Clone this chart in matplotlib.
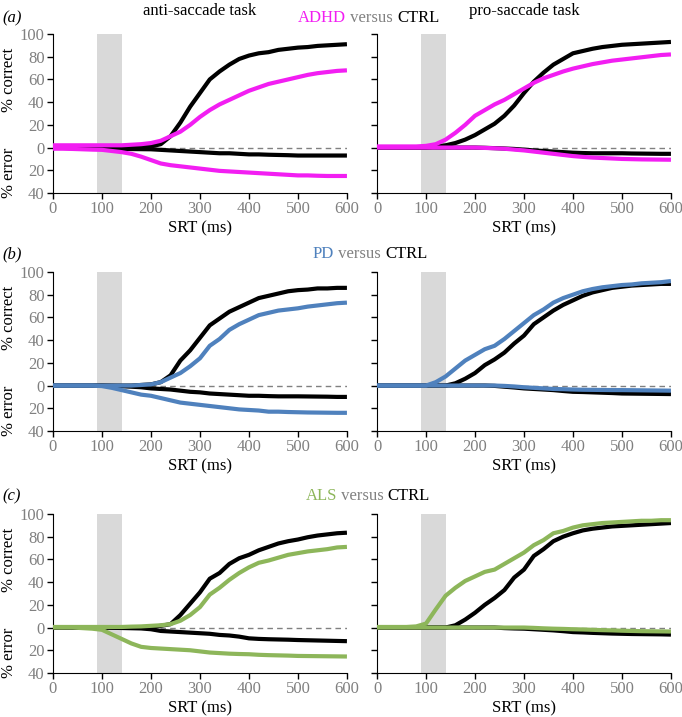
import matplotlib.pyplot as plt

plt.rcParams['font.family'] = 'serif'
plt.rcParams['font.serif'] = ['Liberation Serif', 'DejaVu Serif']

srt = list(range(0, 601, 20))

# (a) ADHD vs CTRL
a_anti_ctrl_c = [0, 0, 0, 0, 0, 0, 0, 0, 0, 0.5, 1, 3, 10, 22, 36, 48, 60, 67, 73, 78, 81, 83, 84, 86, 87, 88, 88.5, 89.5, 90, 90.5, 91]
a_anti_pat_c = [2, 2, 2, 2, 2, 2, 2, 2, 2.5, 3, 4, 6, 10, 14, 20, 27, 33, 38, 42, 46, 50, 53, 56, 58, 60, 62, 64, 65.5, 66.5, 67.5, 68]
a_anti_ctrl_e = [0, -0.3, -0.5, -0.7, -0.9, -1, -1.1, -1.2, -1.3, -1.4, -1.5, -2, -2.5, -3, -3.5, -4, -4.5, -5, -5, -5.5, -6, -6, -6.3, -6.5, -6.7, -7, -7, -7, -7, -7, -7]
a_anti_pat_e = [-1, -1, -1.2, -1.5, -1.8, -2, -3, -4, -5.5, -8, -11, -14, -15.5, -16.5, -17.5, -18.5, -19.5, -20.5, -21, -21.5, -22, -22.5, -23, -23.5, -24, -24.5, -24.5, -24.8, -25, -25, -25]
a_pro_ctrl_c = [0, 0, 0, 0, 0, 0, 1, 2, 4, 7, 11, 16, 21, 28, 37, 48, 58, 66, 73, 78, 83, 85, 87, 88.5, 89.5, 90.5, 91, 91.5, 92, 92.5, 93]
a_pro_pat_c = [1, 1, 1, 1, 1, 1.5, 3, 7, 13, 20, 28, 33, 38, 42, 47, 52, 57, 61, 64, 67, 69.5, 71.5, 73.5, 75, 76.5, 77.5, 78.5, 79.5, 80.5, 81.5, 82]
a_pro_ctrl_e = [0, 0, 0, 0, 0, 0, 0, 0, 0, 0, 0, -0.2, -0.5, -0.8, -1.2, -1.8, -2.5, -3, -3.5, -4, -4.5, -4.8, -5, -5, -5, -5, -5.2, -5.3, -5.4, -5.5, -5.5]
a_pro_pat_e = [0, 0, 0, 0, 0, 0, 0, 0, 0, 0, 0, -0.3, -0.6, -1, -1.8, -2.5, -3.5, -4.5, -5.5, -6.5, -7.5, -8.2, -8.8, -9.2, -9.6, -10, -10.2, -10.4, -10.5, -10.6, -10.7]

# (b) PD vs CTRL
b_anti_ctrl_c = [0, 0, 0, 0, 0, 0, 0, 0, 0, 0.5, 1, 3, 9, 22, 31, 42, 53, 59, 65, 69, 73, 77, 79, 81, 83, 84, 84.5, 85.5, 85.5, 86, 86]
b_anti_pat_c = [0, 0, 0, 0, 0, 0, 0, 0, 0, 0.5, 1, 3, 7, 11, 17, 24, 35, 41, 49, 54, 58, 62, 64, 66, 67, 68, 69.5, 70.5, 71.5, 72.5, 73]
b_anti_ctrl_e = [0, 0, 0, 0, 0, 0, -0.3, -0.6, -1, -1.5, -2.5, -3, -3.5, -4.5, -5.5, -6, -7, -7.5, -8, -8.5, -9, -9, -9.3, -9.5, -9.5, -9.5, -9.6, -9.7, -9.8, -10, -10]
b_anti_pat_e = [0, 0, 0, 0, 0, -0.5, -2, -4, -6, -8, -9, -11, -13, -15, -16, -17, -18, -19, -20, -21, -21.5, -22, -23, -23, -23.3, -23.5, -23.7, -23.8, -23.9, -24, -24]
b_pro_ctrl_c = [0, 0, 0, 0, 0, 0, 0, 0, 2, 6, 11, 18, 23, 29, 37, 44, 54, 60, 66, 71, 75, 79, 82, 84, 86, 87, 88, 88.5, 89, 89.5, 89.5]
b_pro_pat_c = [0, 0, 0, 0, 0, 0, 3, 8, 15, 22, 27, 32, 35, 41, 48, 55, 62, 67, 73, 77, 80, 83, 85, 86.5, 87.5, 88.5, 89, 90, 90.5, 91, 92]
b_pro_ctrl_e = [0, 0, 0, 0, 0, 0, 0, 0, 0, 0, 0, 0, -0.3, -1, -1.7, -2.5, -3, -3.5, -4, -4.8, -5.5, -5.7, -6, -6.3, -6.6, -7, -7.1, -7.2, -7.3, -7.4, -7.5]
b_pro_pat_e = [0, 0, 0, 0, 0, 0, 0, 0, 0, 0, 0, 0, 0, -0.3, -0.8, -1.5, -2, -2.5, -3, -3.2, -3.5, -3.7, -3.8, -3.9, -4, -4, -4.1, -4.2, -4.3, -4.4, -4.5]

# (c) ALS vs CTRL
c_anti_ctrl_c = [0, 0, 0, 0, 0, 0, 0, 0, 0, 0, 0.5, 1.5, 3, 11, 21, 31, 43, 48, 56, 61, 64, 68, 71, 74, 76, 77.5, 79.5, 81, 82, 83, 83.5]
c_anti_pat_c = [0.5, 0.5, 0.5, 0.5, 0.5, 0.5, 0.5, 0.5, 0.8, 1, 1.5, 2, 3, 6, 11, 18, 29, 35, 42, 48, 53, 57, 59, 61.5, 64, 65.5, 67, 68, 69, 70.5, 71]
c_anti_ctrl_e = [0, 0, 0, 0, 0, 0, -0.2, -0.4, -0.6, -0.8, -1.5, -3, -3.5, -4, -4.5, -5, -5.5, -6.5, -7, -8, -9.5, -10, -10.3, -10.5, -10.7, -11, -11.2, -11.4, -11.6, -11.8, -12]
c_anti_pat_e = [0, 0, 0, -0.5, -1, -2, -6, -10, -14, -17, -18, -18.5, -19, -19.5, -20, -21, -22, -22.5, -23, -23.3, -23.5, -24, -24.3, -24.5, -24.7, -25, -25.1, -25.2, -25.3, -25.4, -25.5]
c_pro_ctrl_c = [0, 0, 0, 0, 0, 0, 0, 0, 2, 7, 13, 20, 26, 33, 44, 51, 63, 69, 76, 80, 83, 85.5, 87, 88, 89, 89.5, 90, 90.5, 91, 91.5, 92]
c_pro_pat_c = [0.5, 0.5, 0.5, 0.5, 1, 3.5, 16, 28, 35, 41, 45, 49, 51, 56, 61, 66, 72.5, 77, 83, 85, 88, 90, 91, 92, 92.5, 93, 93.5, 94, 94, 94.5, 94.5]
c_pro_ctrl_e = [0, 0, 0, 0, 0, 0, 0, 0, 0, 0, 0, 0, 0, -0.5, -0.8, -1, -1.5, -2, -2.5, -3.2, -4, -4.3, -4.7, -5, -5.3, -5.5, -5.7, -5.8, -5.9, -6, -6.2]
c_pro_pat_e = [0, 0, 0, 0, 0, 0, 0, 0, 0, 0, 0, 0, 0, 0, 0, 0, -0.3, -0.7, -1, -1.2, -1.5, -1.7, -2, -2.3, -2.5, -2.8, -3, -3.2, -3.3, -3.4, -3.5]

groups = ["ADHD", "PD", "ALS"]
letters = ["(a)", "(b)", "(c)"]
colors = ["#f21ef2", "#4f81bd", "#8db65a"]
yticks = [-40, -20, 0, 20, 40, 60, 80, 100]
ytick_labels = ["40", "20", "0", "20", "40", "60", "80", "100"]

data = [
    [(a_anti_ctrl_c, a_anti_pat_c, a_anti_ctrl_e, a_anti_pat_e),
     (a_pro_ctrl_c, a_pro_pat_c, a_pro_ctrl_e, a_pro_pat_e)],
    [(b_anti_ctrl_c, b_anti_pat_c, b_anti_ctrl_e, b_anti_pat_e),
     (b_pro_ctrl_c, b_pro_pat_c, b_pro_ctrl_e, b_pro_pat_e)],
    [(c_anti_ctrl_c, c_anti_pat_c, c_anti_ctrl_e, c_anti_pat_e),
     (c_pro_ctrl_c, c_pro_pat_c, c_pro_ctrl_e, c_pro_pat_e)],
]

fig = plt.figure(figsize=(6.82, 7.17), dpi=100)
lefts = [0.0777, 0.5528]
bottoms = [0.7308, 0.3989, 0.0614]
label_y = [1 - 18 / 717, 1 - 254 / 717, 1 - 496 / 717]
group_right = [346 / 682, 334 / 682, 337 / 682]
gray = "#808080"

for r in range(3):
    for c in range(2):
        ax = fig.add_axes([lefts[c], bottoms[r], 0.431, 0.2218])
        ctrl_c, pat_c, ctrl_e, pat_e = data[r][c]
        ax.axvspan(90, 140, color="#d9d9d9", lw=0, zorder=0)
        ax.axhline(0, color=gray, ls="--", lw=1, dashes=(4, 3), zorder=1)
        ax.plot(srt, ctrl_c, color="black", lw=3, zorder=2, solid_capstyle="butt")
        ax.plot(srt, ctrl_e, color="black", lw=3, zorder=2, solid_capstyle="butt")
        ax.plot(srt, pat_c, color=colors[r], lw=3, zorder=3, solid_capstyle="butt")
        ax.plot(srt, pat_e, color=colors[r], lw=3, zorder=3, solid_capstyle="butt")
        ax.set_xlim(0, 600)
        ax.set_ylim(-40, 100)
        ax.set_xticks(range(0, 601, 100))
        ax.set_yticks(yticks)
        ax.spines["top"].set_visible(False)
        ax.spines["right"].set_visible(False)
        ax.tick_params(direction="out", length=4, width=1, labelsize=12, labelcolor=gray, pad=2)
        ax.set_xlabel("SRT (ms)", fontsize=12, labelpad=2)
        if c == 0:
            ax.set_yticklabels(ytick_labels)
            ax.text(-0.15, 60, "% correct", transform=ax.get_yaxis_transform(), rotation=90,
                    ha="center", va="center", fontsize=12)
            ax.text(-0.15, -22, "% error", transform=ax.get_yaxis_transform(), rotation=90,
                    ha="center", va="center", fontsize=12)
        else:
            ax.set_yticklabels([])
        if r == 0:
            ax.set_title(["anti-saccade task", "pro-saccade task"][c], fontsize=12, pad=14)

    fig.text(0.003, label_y[r], letters[r], fontsize=12, style="italic", va="center")
    fig.text(group_right[r], label_y[r], groups[r], fontsize=12, color=colors[r], va="center", ha="right")
    t2 = fig.text(group_right[r], label_y[r], " versus ", fontsize=12, color=gray, va="center", ha="left")
    plt.annotate("CTRL", xycoords=t2, xy=(1, 0), va="bottom", fontsize=12, color="black",
                 annotation_clip=False)

fig.savefig("out.png", dpi=100)
